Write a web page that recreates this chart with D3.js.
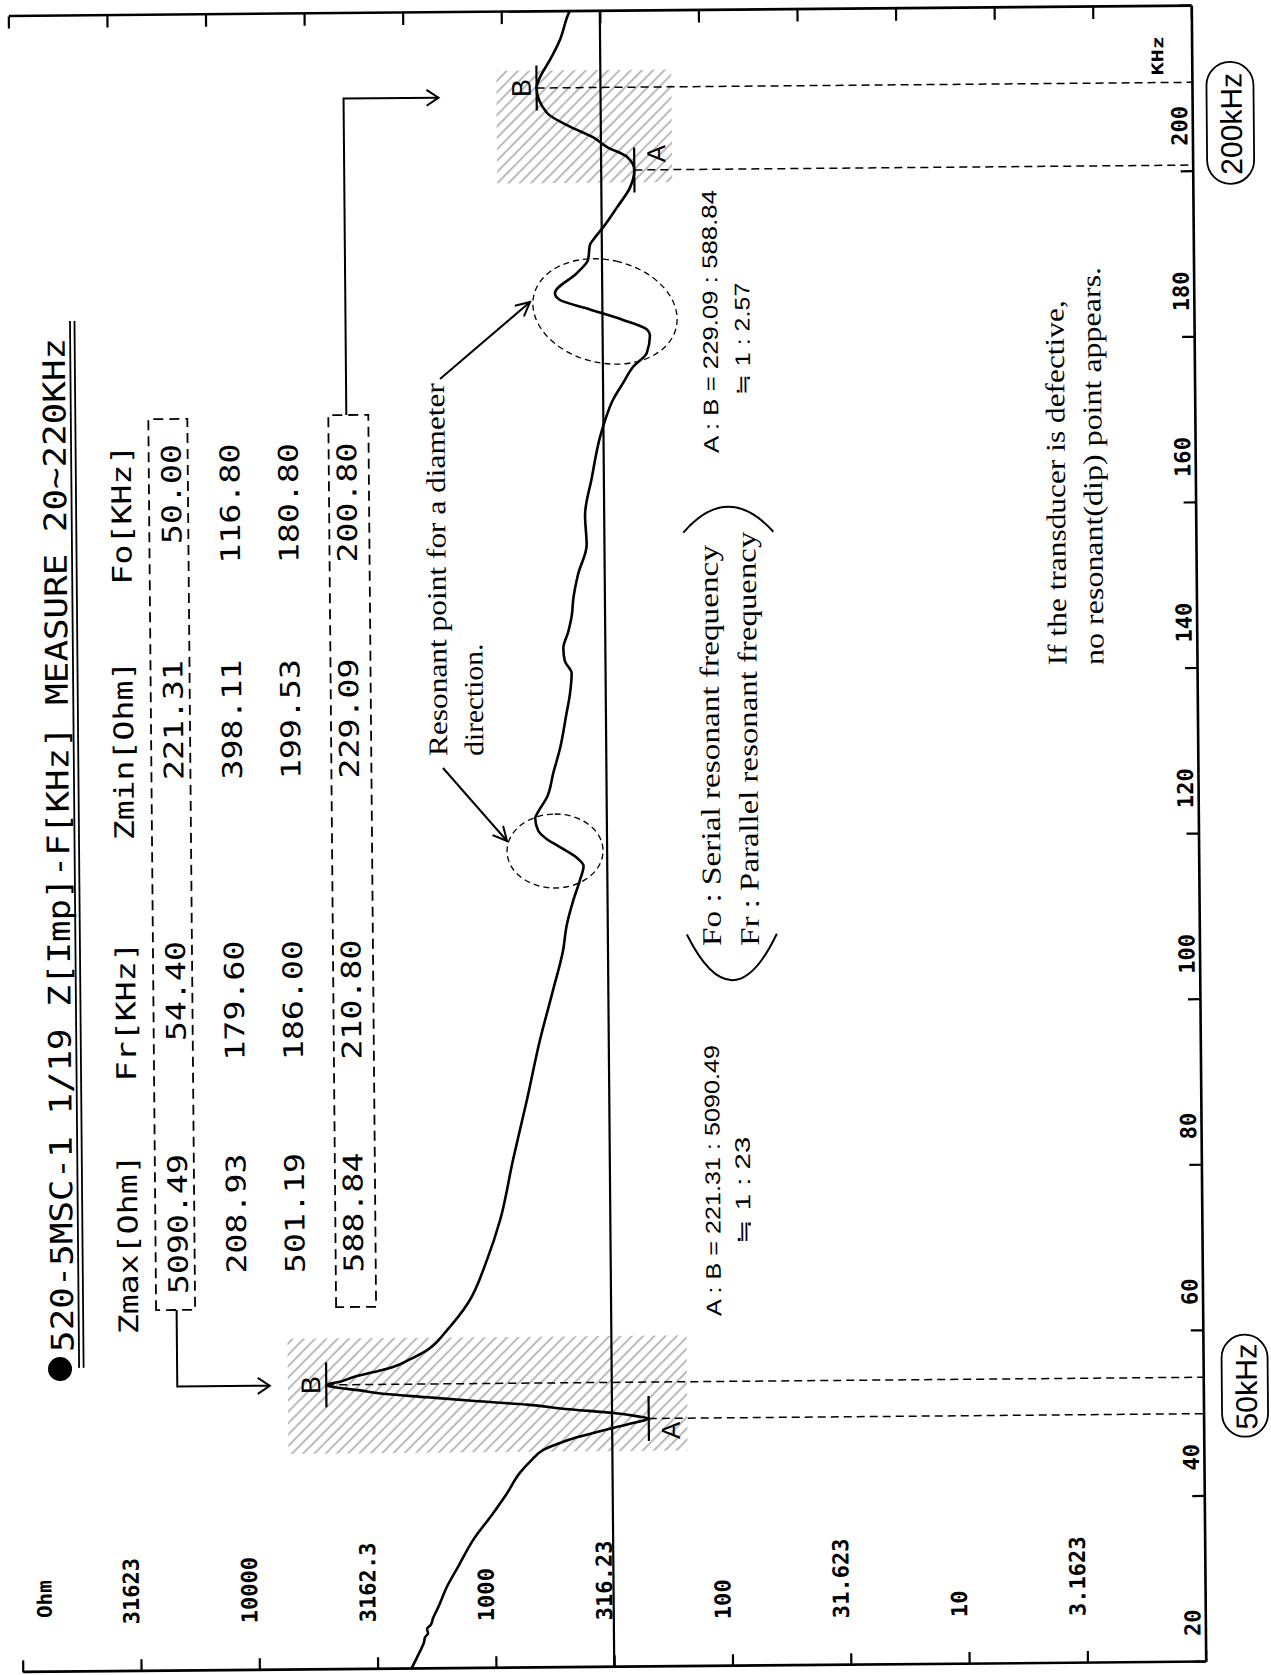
<!DOCTYPE html>
<html><head><meta charset="utf-8">
<script src="https://cdn.jsdelivr.net/npm/d3@7"></script>
<style>
html,body{margin:0;padding:0;background:#fff;}
svg{display:block;}
</style></head><body>
<svg id="c" width="1271" height="1675"></svg>
<script>
// ---------------- data ----------------
const freqKHz = [20.0,21.4,22.5,23.2,23.8,24.3,24.8,25.3,26.1,27.5,29.9,32.5,35.5,38.7,41.0,43.6,45.0,46.3,47.1,47.8,48.4,48.9,49.5,50.0,50.3,50.7,51.2,51.8,52.3,52.8,53.3,53.7,54.1,54.4,54.8,55.3,55.9,56.5,57.4,58.5,60.9,64.1,69.3,74.1,81.4,88.6,95.8,101.8,106.7,109.6,112.6,115.1,116.8,117.8,119.1,120.1,121.1,122.6,123.4,125.1,128.1,131.1,135.1,137.6,140.1,141.6,143.1,145.1,147.1,149.1,152.0,155.6,159.1,163.6,168.6,170.6,173.1,175.1,177.0,178.7,180.8,181.5,182.7,184.0,185.2,186.0,188.4,190.0,191.8,192.4,193.9,196.3,198.7,200.8,202.4,203.6,204.8,206.1,207.8,210.8,212.1,214.2,216.6,219.6,220.0];
const impedanceOhm = [2280,2153,2060,2010,1990,1930,1950,1880,1837,1740,1600,1420,1236,1016,890,778,700,621,530,446,370,313,255,221.31,250,312,480,723,1200,1910,3000,3664,4700,5090.49,4400,3917,3200,2655,2250,1901,1563,1274,1055,925,811,705,618,542,489,472,442,413,398.11,425,500,569,617,635,616,566,530,495,465,448,440,470,476,453,437,430,410,376,381,356,327,311,287,260,236,206,199.53,205,259,357,479,501.19,404,362,355,344,312,272,239,229.09,246,298,342,427,534,588.84,569,515,467,431,425];

const tableHeaders = ["Zmax[Ohm]","Fr[KHz]","Zmin[Ohm]","Fo[KHz]"];
const zmaxOhm = ["5090.49","208.93","501.19","588.84"];
const frKHz   = ["54.40","179.60","186.00","210.80"];
const zminOhm = ["221.31","398.11","199.53","229.09"];
const foKHz   = ["50.00","116.80","180.80","200.80"];

const impTickValues = [1,3.1623,10,31.623,100,316.23,1000,3162.3,10000,31623,100000];
const impTickLabels = ["3.1623","10","31.623","100","316.23","1000","3162.3","10000","31623"];
const impLabelValues = [3.1623,10,31.623,100,316.23,1000,3162.3,10000,31623];
const freqTickValues = [20,40,60,80,100,120,140,160,180,200,220];
const freqTickLabels = ["20","40","60","80","100","120","140","160","180","200"];
const refLineOhm = 316.23;

// resonance markers (A = Fo / Zmin, B = Fr / Zmax)
const markerLabels = ["A","B","A","B"];
const markerFreq   = [50.0,54.4,200.8,210.8];
const markerOhm    = [221.31,5090.49,229.09,588.84];

// hatched regions
const hatchFreqLow  = [46.1,199.3];
const hatchFreqHigh = [60.0,212.9];
const hatchOhmLow   = [152,158.5];
const hatchOhmHigh  = [7400,871];

// ---------------- drawing ----------------
const W = 1271, H = 1675;
const svg = d3.select("#c");
const defs = svg.append("defs");
const pat = defs.append("pattern").attr("id","hatch").attr("patternUnits","userSpaceOnUse")
  .attr("width",8).attr("height",8).attr("patternTransform","rotate(-45)");
pat.append("line").attr("x1",4).attr("y1",-1).attr("x2",4).attr("y2",9)
  .attr("stroke","#4a4a4a").attr("stroke-width",0.75);

const tilt = svg.append("g").attr("transform","rotate(-0.5 635 837)");
const g = tilt.append("g").attr("transform",`translate(0,${H}) rotate(-90)`);

const fx = d3.scaleLinear().domain([20,220]).range([8,1664]);
const zy = d3.scaleLog().domain([1,1e5]).range([1198.5,15.5]);
const topDiv = d3.scaleLinear().domain([0,12]).range([15.5,1198.5]);

const MONO = "'DejaVu Sans Mono', 'Liberation Mono', monospace";
const SERIF = "'Liberation Serif', 'DejaVu Serif', serif";
const SANS = "'Liberation Sans', Arial, sans-serif";

function txt(s, x, y, o){
  const t = g.append("text").attr("x",x).attr("y",y).text(s)
    .attr("font-family",o.ff||MONO).attr("font-size",o.fs||20)
    .attr("font-weight",o.fw||"normal").attr("fill","#000")
    .attr("text-anchor",o.anchor||"start");
  if(o.len){ t.attr("textLength",o.len).attr("lengthAdjust","spacingAndGlyphs"); }
  return t;
}
function arrow(points, head, spread){
  g.append("path").attr("d", d3.line()(points)).attr("fill","none")
    .attr("stroke","#000").attr("stroke-width",2);
  const [x1,y1] = points[points.length-2], [x2,y2] = points[points.length-1];
  const a = Math.atan2(y2-y1, x2-x1);
  const p1 = [x2 - head*Math.cos(a) + spread*Math.sin(a), y2 - head*Math.sin(a) - spread*Math.cos(a)];
  const p2 = [x2 - head*Math.cos(a) - spread*Math.sin(a), y2 - head*Math.sin(a) + spread*Math.cos(a)];
  g.append("path").attr("d", d3.line()([p1,[x2,y2],p2])).attr("fill","none")
    .attr("stroke","#000").attr("stroke-width",2);
}

// hatched boxes
hatchFreqLow.forEach((f0,i)=>{
  g.append("rect").attr("x",fx(f0)).attr("y",zy(hatchOhmHigh[i]))
    .attr("width",fx(hatchFreqHigh[i])-fx(f0))
    .attr("height",zy(hatchOhmLow[i])-zy(hatchOhmHigh[i]))
    .attr("fill","url(#hatch)");
});

// axes / frame
const axL = g.append("g").attr("transform","translate(8,0)")
  .call(d3.axisRight(zy).tickValues(impTickValues).tickSize(12).tickSizeOuter(0).tickFormat(""));
const axR = g.append("g").attr("transform","translate(1664,0)")
  .call(d3.axisLeft(topDiv).ticks(12).tickSize(12).tickSizeOuter(0).tickFormat(""));
const axB = g.append("g").attr("transform","translate(0,1198.5)")
  .call(d3.axisTop(fx).tickValues(freqTickValues).tickSize(12).tickSizeOuter(0).tickFormat(""));
[axL,axR,axB].forEach(a=>{
  a.select(".domain").attr("stroke","#000").attr("stroke-width",2.6);
  a.selectAll(".tick line").attr("stroke","#000").attr("stroke-width",2.2);
});

// reference line at 316.23 Ohm
g.append("line").attr("x1",fx(20)).attr("x2",fx(220)).attr("y1",zy(refLineOhm)).attr("y2",zy(refLineOhm))
  .attr("stroke","#000").attr("stroke-width",2.2);

// axis labels
impLabelValues.forEach((v,i)=>{
  const s = impTickLabels[i];
  txt(s, 55, zy(v)-1.5, {fs:22, fw:"bold", len:s.length*13.3});
});
txt("Ohm", 62, 45, {fs:20, fw:"bold", len:38});
freqTickLabels.forEach((s,i)=>{
  const f = +s;
  txt(s, fx(f)+26, 1193.5, {fs:22, fw:"bold", len:s.length*13.3});
});
txt("KHz", 1595, 1170, {fs:16, fw:"bold", len:39});

// dashed A/B guide lines
markerFreq.forEach((f,i)=>{
  g.append("line").attr("x1",fx(f)).attr("x2",fx(f)).attr("y1",zy(markerOhm[i])).attr("y2",1198.5)
    .attr("stroke","#000").attr("stroke-width",1.5).attr("stroke-dasharray","8,5");
});

// impedance curve
const pts = freqKHz.map((f,i)=>[f, impedanceOhm[i]]);
g.append("path").datum(pts)
  .attr("d", d3.line().x(d=>fx(d[0])).y(d=>zy(d[1])).curve(d3.curveMonotoneX))
  .attr("fill","none").attr("stroke","#000").attr("stroke-width",2.6).attr("stroke-linejoin","round");

// markers
const aLabelShift = [-12,0,16,0];
markerFreq.forEach((f,i)=>{
  const x = fx(f), y = zy(markerOhm[i]);
  g.append("line").attr("x1",x-22.5).attr("x2",x+22.5).attr("y1",y).attr("y2",y)
    .attr("stroke","#000").attr("stroke-width",2.2);
  if(markerLabels[i]==="B"){
    txt("B", x, y-6, {ff:SANS, fs:27, anchor:"middle"});
  } else {
    txt("A", x+aLabelShift[i], y+31, {ff:SANS, fs:26, anchor:"middle"});
  }
});

// dashed ellipses
[[824.7,554.9,37,48,0],[1363.8,609.6,51.5,73,13]].forEach(e=>{
  g.append("ellipse").attr("cx",e[0]).attr("cy",e[1]).attr("rx",e[2]).attr("ry",e[3])
    .attr("transform",`rotate(${e[4]} ${e[0]} ${e[1]})`)
    .attr("fill","none").attr("stroke","#000").attr("stroke-width",1.3).attr("stroke-dasharray","6,4");
});

// title
g.append("circle").attr("cx",311).attr("cy",55.4).attr("r",12).attr("fill","#000");
txt("520-5MSC-1 1/19 Z[Imp]-F[KHz] MEASURE 20~220KHz", 328, 69, {fs:31, len:1014});
[74.5,79].forEach(y=>g.append("line").attr("x1",312).attr("x2",1359).attr("y1",y).attr("y2",y)
  .attr("stroke","#000").attr("stroke-width",1.8));

// table
const colEnds = [525,738,1019,1235];
const rowBase = [184,242.5,301,359.5];
const cols = [zmaxOhm, frKHz, zminOhm, foKHz];
tableHeaders.forEach((h,c)=>{
  txt(h, colEnds[c], 134, {fs:27, anchor:"end", len:h.length*20});
  cols[c].forEach((v,r)=>{
    txt(v, colEnds[c], rowBase[r], {fs:27, anchor:"end", len:v.length*20});
  });
});
[[369,1260,152,191],[370.5,1262.5,332,372]].forEach(b=>{
  g.append("rect").attr("x",b[0]).attr("y",b[2]).attr("width",b[1]-b[0]).attr("height",b[3]-b[2])
    .attr("fill","none").attr("stroke","#000").attr("stroke-width",1.8).attr("stroke-dasharray","10,6");
});
arrow([[369,172.5],[292.5,172.5],[292.5,265]], 12, 8);
arrow([[1262.5,350],[1579,350],[1579,445]], 12, 8);

// annotations
txt("Resonant point for a diameter", 920.6, 448, {ff:SERIF, fs:27, len:373});
txt("direction.", 920.6, 484, {ff:SERIF, fs:27, len:112});
arrow([[908.7,443.6],[835.1,507]], 14, 7);
arrow([[1297.7,444],[1373.9,534.7]], 14, 7);

txt("A : B = 221.31 : 5090.49", 358.3, 717, {ff:SANS, fs:21, len:271});
txt("≒ 1 : 23", 430.3, 747, {ff:SANS, fs:21, len:107});
txt("A : B = 229.09 : 588.84", 1221.3, 722, {ff:SANS, fs:21, len:263});
txt("≒ 1 : 2.57", 1279.3, 754, {ff:SANS, fs:21, len:112});

txt("Fo : Serial resonant frequency", 728.3, 720, {ff:SERIF, fs:27, len:401});
txt("Fr : Parallel resonant frequency", 728.3, 758, {ff:SERIF, fs:27, len:414});
g.append("path").attr("d","M740,686 Q648,731 740,776").attr("fill","none").attr("stroke","#000").attr("stroke-width",2);
g.append("path").attr("d","M1142,686 Q1193,731 1142,776").attr("fill","none").attr("stroke","#000").attr("stroke-width",2);

txt("If the transducer is defective,", 1006, 1068, {ff:SERIF, fs:27, len:365});
txt("no resonant(dip) point appears.", 1006, 1105, {ff:SERIF, fs:27, len:398});

// frequency badges
[[284,1240,102,46,"50kHz",240,1252,86],[1547,1236.5,122,47,"200kHz",1495,1248,102]].forEach(b=>{
  g.append("rect").attr("x",b[0]-b[2]/2).attr("y",b[1]-b[3]/2).attr("width",b[2]).attr("height",b[3])
    .attr("rx",b[3]/2).attr("ry",b[3]/2).attr("fill","none").attr("stroke","#000").attr("stroke-width",1.8);
  txt(b[4], b[5], b[6], {ff:SANS, fs:30, len:b[7]});
});
</script>
</body></html>
